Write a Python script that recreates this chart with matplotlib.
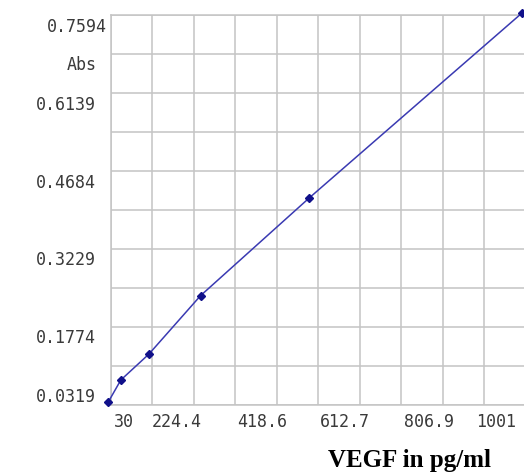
import matplotlib
matplotlib.use("Agg")
import matplotlib.pyplot as plt
import matplotlib.transforms as mtransforms
import numpy as np

# ── data ───────────────────────────────────────────────────
conc = [24, 53, 119, 240, 495, 992]              # VEGF pg/ml
absorb = [0.038, 0.0785, 0.127, 0.236, 0.4185, 0.7624]

x_ticks = [30, 224.4, 418.6, 612.7, 806.9, 1001]
x_labels = ["30", "224.4", "418.6", "612.7", "806.9", "1001"]
y_ticks = [0.0319, 0.1774, 0.3229, 0.4684, 0.6139, 0.7594]
y_labels = ["0.0319", "0.1774", "0.3229", "0.4684", "0.6139", "0.7594"]

# ── canvas ─────────────────────────────────────────────────
DPI = 100
fig = plt.figure(figsize=(5.24, 4.76), dpi=DPI)
fig.patch.set_facecolor("white")
ax = fig.add_axes([111 / 524, 1 - 405 / 476, 414.4 / 524, 390 / 476])

ax.set_xlim(x_ticks[0], x_ticks[-1])
ax.set_ylim(y_ticks[0], y_ticks[-1])

ax.plot(conc, absorb, color="#3a3ab2", lw=1.1, zorder=3, clip_on=False)
ax.plot(conc, absorb, ls="none", marker="D", ms=3.6, color="#10108a",
        zorder=4, clip_on=False)

# grid: every label step split in two
ax.set_xticks(x_ticks)
ax.set_xticklabels(x_labels)
ax.set_xticks(np.array(x_ticks[:-1]) + np.diff(x_ticks) / 2, minor=True)
ax.set_yticks(y_ticks)
ax.set_yticklabels(y_labels)
ax.set_yticks(np.array(y_ticks[:-1]) + np.diff(y_ticks) / 2, minor=True)
ax.grid(which="both", color="#c4c4c4", lw=1.1, zorder=0)
ax.set_axisbelow(True)
for s in ax.spines.values():
    s.set_color("#c4c4c4")
    s.set_linewidth(1.1)

TICK_FONT = dict(family="DejaVu Sans Mono", size=12)
ax.tick_params(which="both", length=0, colors="#3a3a3a")
ax.tick_params(axis="x", pad=5.5)
ax.tick_params(axis="y", pad=11)
for lab in ax.get_xticklabels() + ax.get_yticklabels():
    lab.set_fontfamily(TICK_FONT["family"])
    lab.set_fontsize(TICK_FONT["size"])


def shift(lab, dx, dy):
    lab.set_transform(lab.get_transform() + mtransforms.ScaledTranslation(
        dx / DPI, dy / DPI, fig.dpi_scale_trans))


x_off = [13, -17, -15, -15, -14, -29]
for lab, dx in zip(ax.get_xticklabels(), x_off):
    shift(lab, dx, 0)

y_off = [(0, 10), (0, -9), (0, -9), (0, -10), (0, -10), (11, -10)]
for lab, (dx, dy) in zip(ax.get_yticklabels(), y_off):
    shift(lab, dx, dy)

fig.text(97 / 524, 1 - 65 / 476, "Abs", ha="right", va="center",
         fontfamily="DejaVu Sans Mono", fontsize=12, color="#3a3a3a")
fig.text(410 / 524, 1 - 460 / 476, "VEGF in pg/ml", ha="center", va="center",
         fontfamily="Liberation Serif", fontweight="bold", fontsize=18,
         color="black")

fig.savefig("out.png", dpi=DPI, facecolor="white")
